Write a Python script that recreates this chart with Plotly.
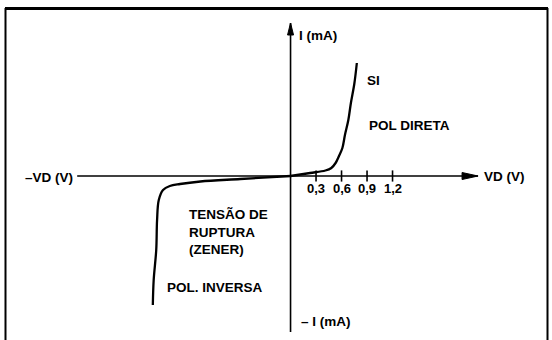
import plotly.graph_objects as go

# ==== data (VD in volts, I in arbitrary mA units) ====
fwd_v = [0.0, 0.23, 0.41, 0.48, 0.53, 0.57, 0.61, 0.64, 0.68, 0.71, 0.75, 0.78]
fwd_i = [0.0, 0.3, 0.55, 0.8, 1.3, 2.0, 2.8, 4.1, 5.6, 7.3, 9.2, 11.3]

rev_v = [0.0, -0.59, -1.06, -1.30, -1.42, -1.50, -1.55, -1.57, -1.58, -1.61, -1.62]
rev_i = [0.0, -0.3, -0.55, -0.8, -1.0, -1.4, -2.4, -4.4, -7.4, -10.4, -12.9]

tick_vals = [0.3, 0.6, 0.9, 1.2]
tick_text = ['0,3', '0,6', '0,9', '1,2']

# ==== settings ====
W, H = 552, 340
x_range = [-3.418, 3.076]
y_range = [-16.4, 17.6]
x_axis_ext = [-2.51, 2.206]
y_axis_ext = [-15.6, 15.3]

lab_font = dict(family='Liberation Sans', size=13.5, color='black')
tick_font = dict(family='Liberation Sans', size=13, color='black')
ink = 'black'

fig = go.Figure()

# axes lines
fig.add_trace(go.Scatter(x=x_axis_ext, y=[0, 0], mode='lines',
                         line=dict(color=ink, width=1.6), hoverinfo='skip'))
fig.add_trace(go.Scatter(x=[0, 0], y=y_axis_ext, mode='lines',
                         line=dict(color=ink, width=1.6), hoverinfo='skip'))

# tick marks and labels
fig.add_trace(go.Scatter(x=tick_vals, y=[0]*len(tick_vals), mode='markers',
                         marker=dict(symbol='line-ns', size=8, line=dict(color=ink, width=1.6)),
                         hoverinfo='skip'))
for tv, tt in zip(tick_vals, tick_text):
    fig.add_annotation(x=tv, y=-1.25, text='<b>'+tt+'</b>', showarrow=False,
                       font=tick_font, xanchor='center', yanchor='middle')

# diode curve
fig.add_trace(go.Scatter(x=fwd_v, y=fwd_i, mode='lines', line=dict(color=ink, width=2.3, shape='spline'),
                         hoverinfo='skip'))
fig.add_trace(go.Scatter(x=rev_v, y=rev_i, mode='lines', line=dict(color=ink, width=2.3, shape='spline'),
                         hoverinfo='skip'))

# arrowheads
fig.add_shape(type='path', xref='x', yref='y', xsizemode='pixel', ysizemode='pixel',
              xanchor=x_axis_ext[1], yanchor=0, path='M0,0 L-16,3.5 L-16,-3.5 Z',
              fillcolor=ink, line=dict(color=ink, width=1))
fig.add_shape(type='path', xref='x', yref='y', xsizemode='pixel', ysizemode='pixel',
              xanchor=0, yanchor=y_axis_ext[1], path='M0,0 L-3,-12 L3,-12 Z',
              fillcolor=ink, line=dict(color=ink, width=1))

# frame
fig.add_shape(type='line', xref='paper', yref='paper', x0=5/W, x1=548/W, y0=1-8.5/H, y1=1-8.5/H,
              line=dict(color=ink, width=3))
fig.add_shape(type='line', xref='paper', yref='paper', x0=5.5/W, x1=5.5/W, y0=1-8/H, y1=-0.05,
              line=dict(color=ink, width=2))
fig.add_shape(type='line', xref='paper', yref='paper', x0=547.5/W, x1=547.5/W, y0=1-8/H, y1=-0.05,
              line=dict(color=ink, width=2))

# labels
labels = [
    (0.076, 14.1, 'I (mA)', 'left'),
    (0.876, 9.6, 'SI', 'left'),
    (0.90, 5.1, 'POL DIRETA', 'left'),
    (-2.53, -0.1, '–VD (V)', 'right'),
    (2.25, 0.0, 'VD (V)', 'left'),
    (-1.22, -5.6, 'TENSÃO DE<br>RUPTURA<br>(ZENER)', 'left'),
    (-1.48, -11.1, 'POL. INVERSA', 'left'),
    (0.10, -14.5, '– I (mA)', 'left'),
]
for lx, ly, lt, anc in labels:
    fig.add_annotation(x=lx, y=ly, text='<b>'+lt+'</b>', showarrow=False, font=lab_font,
                       xanchor=anc, yanchor='middle', align='left')

fig.update_xaxes(range=x_range, visible=False, fixedrange=True)
fig.update_yaxes(range=y_range, visible=False, fixedrange=True)
fig.update_layout(
    width=W, height=H,
    margin=dict(l=0, r=0, t=0, b=0),
    plot_bgcolor='white', paper_bgcolor='white',
    showlegend=False,
)

fig.write_html('out.html', config=dict(displayModeBar=False),
               post_script="document.body.style.margin='0';document.body.style.overflow='hidden';")
